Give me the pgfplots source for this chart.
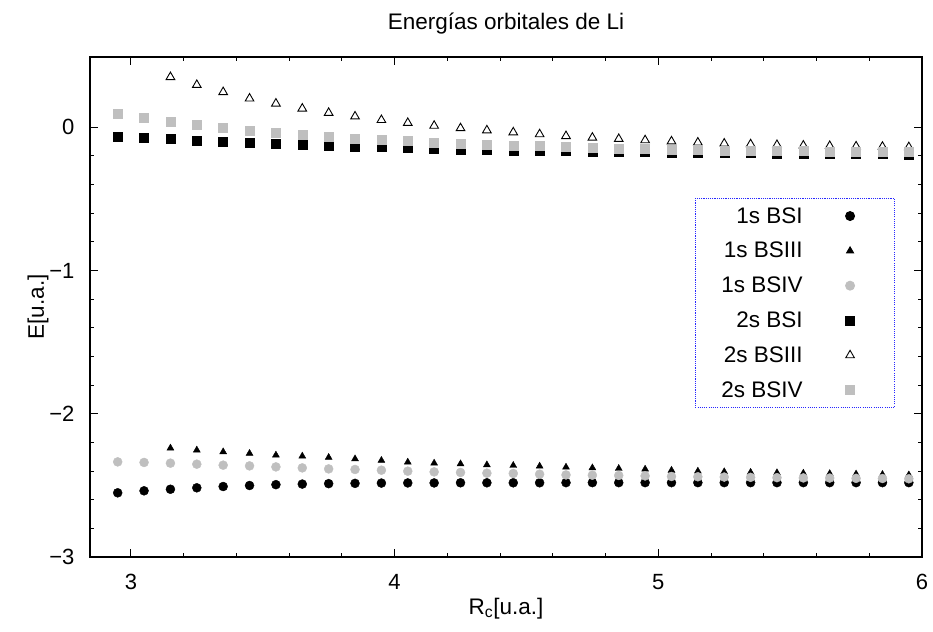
\documentclass[border=0pt]{standalone}
\usepackage{fontspec}
\setmainfont{Liberation Sans}
\usepackage{pgfplots}
\pgfplotsset{compat=1.18}
\definecolor{lgray}{gray}{0.75}

\begin{document}
\begin{tikzpicture}
\begin{axis}[
    name=a,
    scale only axis,
    width=832pt, height=500pt,
    xmin=2.845, xmax=6,
    ymin=-3, ymax=0.49,
    xtick={3,4,5,6},
    ytick={-3,-2,-1,0},
    yticklabels={−3,−2,−1,0},
    minor x tick num=4,
    minor y tick num=4,
    major tick length=8pt,
    minor tick length=4pt,
    every tick/.style={black, line width=0.8pt},
    axis line style={line width=1.2pt},
    font=\fontsize{22.5}{27}\selectfont,
    tick label style={font=\fontsize{22}{26}\selectfont},
    /pgf/number format/assume math mode=true,
    xticklabel style={yshift=-14pt},
    yticklabel style={xshift=-12pt},
    title={Energías orbitales de Li},
    title style={at={(axis description cs:0.5,1.054)}, anchor=center},
    xlabel={R\textsubscript{c}[u.a.]},
    xlabel style={at={(axis description cs:0.5,-0.103)}, anchor=center},
    ylabel={E[u.a.]},
    ylabel style={at={(axis description cs:-0.0625,0.5)}, anchor=center},
    every mark/.append style={solid},
    legend plot pos=right,
    legend cell align=right,
    legend image code/.code={\draw[#1] plot coordinates {(45pt,0pt)}; \path (0pt,0pt) (65pt,0pt);},
    legend style={at={(axis description cs:0.9675,0.718)}, anchor=north east,
        draw={rgb,255:red,40;green,40;blue,255}, line width=0.9pt, dash pattern=on 1.1pt off 1.1pt,
        row sep=13.6pt, inner xsep=24pt, inner ysep=7pt,
        font=\fontsize{22.5}{27}\selectfont},
]
% 1s BSI
\addplot[only marks, mark=*, mark size=4.5pt, draw=black, fill=black] coordinates {
(2.95,-2.552) (3.05,-2.538) (3.15,-2.527) (3.25,-2.517) (3.35,-2.508)
(3.45,-2.501) (3.55,-2.495) (3.65,-2.491) (3.75,-2.488) (3.85,-2.486)
(3.95,-2.484) (4.05,-2.483) (4.15,-2.483) (4.25,-2.482) (4.35,-2.482)
(4.45,-2.482) (4.55,-2.482) (4.65,-2.481) (4.75,-2.481) (4.85,-2.481)
(4.95,-2.481) (5.05,-2.481) (5.15,-2.481) (5.25,-2.481) (5.35,-2.481)
(5.45,-2.481) (5.55,-2.481) (5.65,-2.481) (5.75,-2.481) (5.85,-2.481)
(5.95,-2.481)};
% 1s BSIII
\addplot[only marks, mark=triangle*, mark size=4pt, draw=black, fill=black] coordinates {
(3.15,-2.240) (3.25,-2.254) (3.35,-2.266) (3.45,-2.277) (3.55,-2.289)
(3.65,-2.296) (3.75,-2.305) (3.85,-2.315) (3.95,-2.326) (4.05,-2.338)
(4.15,-2.345) (4.25,-2.350) (4.35,-2.357) (4.45,-2.361) (4.55,-2.366)
(4.65,-2.373) (4.75,-2.378) (4.85,-2.382) (4.95,-2.387) (5.05,-2.395)
(5.15,-2.401) (5.25,-2.405) (5.35,-2.409) (5.45,-2.412) (5.55,-2.415)
(5.65,-2.418) (5.75,-2.421) (5.85,-2.424) (5.95,-2.427)};
% 1s BSIV
\addplot[only marks, mark=*, mark size=4.5pt, draw=lgray, fill=lgray] coordinates {
(2.95,-2.336) (3.05,-2.340) (3.15,-2.345) (3.25,-2.352) (3.35,-2.359)
(3.45,-2.364) (3.55,-2.371) (3.65,-2.378) (3.75,-2.385) (3.85,-2.389)
(3.95,-2.394) (4.05,-2.401) (4.15,-2.406) (4.25,-2.410) (4.35,-2.415)
(4.45,-2.417) (4.55,-2.422) (4.65,-2.427) (4.75,-2.429) (4.85,-2.431)
(4.95,-2.434) (5.05,-2.438) (5.15,-2.440) (5.25,-2.442) (5.35,-2.444)
(5.45,-2.446) (5.55,-2.448) (5.65,-2.449) (5.75,-2.451) (5.85,-2.452)
(5.95,-2.454)};
% 2s BSI
\addplot[only marks, mark=square*, mark size=4.5pt, draw=black, fill=black] coordinates {
(2.95,-0.063) (3.05,-0.072) (3.15,-0.082) (3.25,-0.091) (3.35,-0.098)
(3.45,-0.107) (3.55,-0.114) (3.65,-0.121) (3.75,-0.126) (3.85,-0.133)
(3.95,-0.138) (4.05,-0.144) (4.15,-0.149) (4.25,-0.154) (4.35,-0.156)
(4.45,-0.161) (4.55,-0.163) (4.65,-0.166) (4.75,-0.168) (4.85,-0.170)
(4.95,-0.173) (5.05,-0.175) (5.15,-0.177) (5.25,-0.179) (5.35,-0.181)
(5.45,-0.183) (5.55,-0.184) (5.65,-0.186) (5.75,-0.187) (5.85,-0.188)
(5.95,-0.189)};
% 2s BSIII
\addplot[only marks, mark=triangle, mark size=5pt, draw=black, line width=0.9pt] coordinates {
(3.15,0.350) (3.25,0.295) (3.35,0.245) (3.45,0.200) (3.55,0.165)
(3.65,0.130) (3.75,0.100) (3.85,0.075) (3.95,0.050) (4.05,0.030)
(4.15,0.010) (4.25,-0.007) (4.35,-0.022) (4.45,-0.036) (4.55,-0.049)
(4.65,-0.062) (4.75,-0.073) (4.85,-0.082) (4.95,-0.091) (5.05,-0.099)
(5.15,-0.107) (5.25,-0.114) (5.35,-0.119) (5.45,-0.124) (5.55,-0.128)
(5.65,-0.131) (5.75,-0.134) (5.85,-0.136) (5.95,-0.139)};
% 2s BSIV
\addplot[only marks, mark=square*, mark size=4.5pt, draw=lgray, fill=lgray] coordinates {
(2.95,0.091) (3.05,0.063) (3.15,0.040) (3.25,0.016) (3.35,-0.005)
(3.45,-0.021) (3.55,-0.037) (3.65,-0.051) (3.75,-0.065) (3.85,-0.077)
(3.95,-0.086) (4.05,-0.096) (4.15,-0.105) (4.25,-0.114) (4.35,-0.119)
(4.45,-0.126) (4.55,-0.131) (4.65,-0.138) (4.75,-0.142) (4.85,-0.147)
(4.95,-0.151) (5.05,-0.155) (5.15,-0.158) (5.25,-0.161) (5.35,-0.163)
(5.45,-0.165) (5.55,-0.167) (5.65,-0.169) (5.75,-0.170) (5.85,-0.171)
(5.95,-0.172)};
\legend{1s BSI,1s BSIII,1s BSIV,2s BSI,2s BSIII,2s BSIV}
\end{axis}
\path ([shift={(-90pt,-74pt)}]a.south west) rectangle ([shift={(11pt,57pt)}]a.north east);
\end{tikzpicture}
\end{document}
